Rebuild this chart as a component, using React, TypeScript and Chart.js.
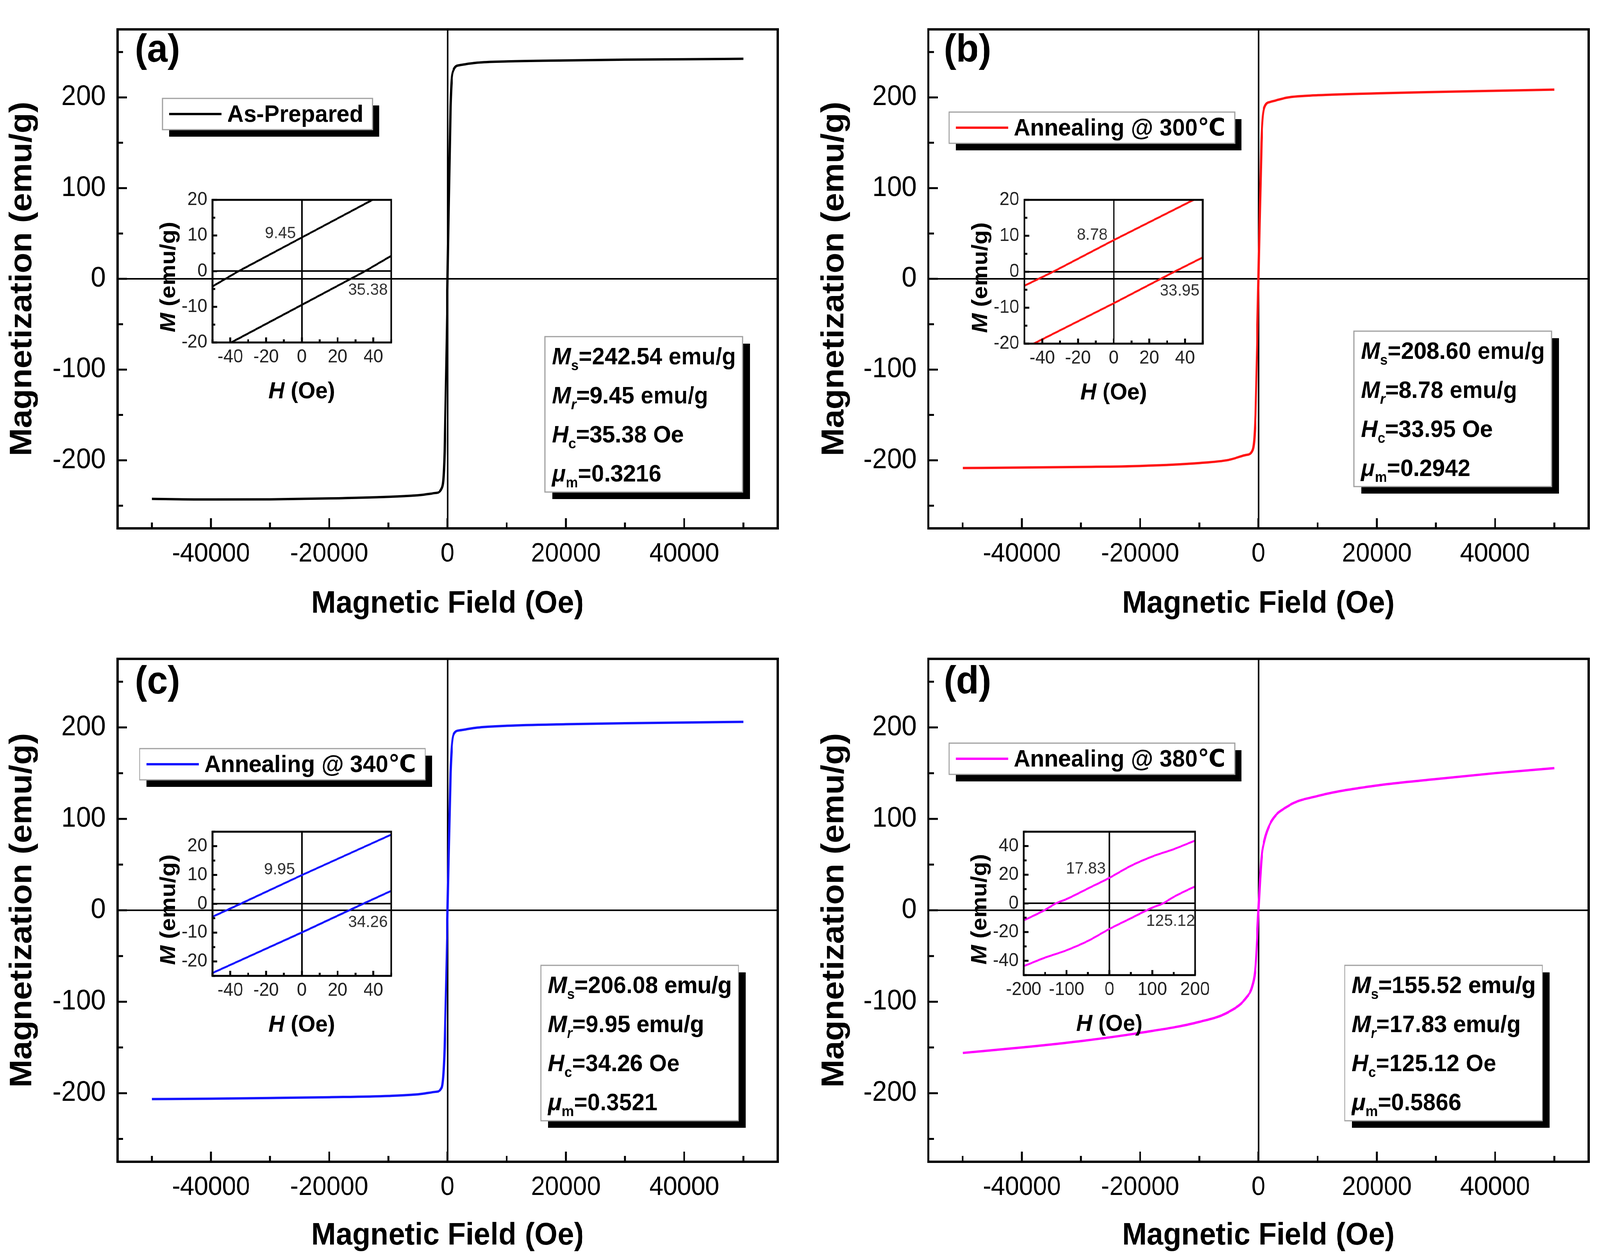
import React, { useEffect, useRef } from 'react';
import { Chart, registerables } from 'chart.js';

Chart.register(...registerables);

const FONT = '"Liberation Sans", Arial, "DejaVu Sans", "Noto Sans CJK SC", sans-serif';
Chart.defaults.font.family = FONT;

const PAGE_W = 4331;
const PAGE_H = 3224;

// ---------------- data ----------------
const SERIES_LABELS = ['As-Prepared', 'Annealing @ 300℃', 'Annealing @ 340℃', 'Annealing @ 380℃'];
const SERIES_COLORS = ['#000000', '#ff1414', '#1414ff', '#ff00ff'];
const PANEL_TAGS = ['(a)', '(b)', '(c)', '(d)'];

const H_MAIN = [-50000, -40000, -30000, -20000, -10000, -5000, -2000, -1000, -500, 0, 500, 1000, 2000, 5000, 10000, 20000, 30000, 40000, 50000];
const M_AS_PREPARED = [-242.5, -243.2, -243.0, -242.0, -240.2, -238.5, -236.0, -231.0, -190, 0, 190, 230, 235.5, 238.3, 239.7, 240.8, 241.6, 242.1, 242.54];
const M_300 = [-208.5, -208.0, -207.3, -206.2, -203.0, -199.5, -194.0, -189.0, -150, 0, 150, 189, 195, 200, 202.4, 204.5, 206.0, 207.3, 208.6];
const M_340 = [-206.5, -206.0, -205.3, -204.4, -203.0, -201.2, -198.5, -194.0, -150, 0, 150, 192, 196.8, 199.8, 201.8, 203.5, 204.6, 205.4, 206.08];
const M_380 = [-156, -150, -143, -134, -122, -111, -95, -82, -62, 0, 56, 76, 95, 114, 125, 136.5, 143.5, 150, 155.5];
const SERIES_M = [M_AS_PREPARED, M_300, M_340, M_380];

const MS_VALUES = [242.54, 208.6, 206.08, 155.52];
const MR_VALUES = [9.45, 8.78, 9.95, 17.83];
const HC_VALUES = [35.38, 33.95, 34.26, 125.12];
const MU_VALUES = [0.3216, 0.2942, 0.3521, 0.5866];

const MAIN_X_TICKS = [-40000, -20000, 0, 20000, 40000];
const MAIN_X_MINOR = [-50000, -30000, -10000, 10000, 30000, 50000];
const MAIN_Y_TICKS = [-200, -100, 0, 100, 200];
const MAIN_Y_MINOR = [-250, -150, -50, 50, 150, 250];

// insets (upper / lower branch of the loop)
const INSET_A_UP_H = [-50, -35.38, 0, 50];
const INSET_A_UP_M = [-4.3, 0, 9.45, 22.8];
const INSET_A_DN_H = [-50, 0, 35.38, 50];
const INSET_A_DN_M = [-22.8, -9.45, 0, 4.3];

const INSET_B_UP_H = [-50, -33.95, 0, 50];
const INSET_B_UP_M = [-3.9, 0, 8.78, 21.3];
const INSET_B_DN_H = [-50, 0, 33.95, 50];
const INSET_B_DN_M = [-21.3, -8.78, 0, 4.0];

const INSET_C_UP_H = [-50, -34.26, 0, 50];
const INSET_C_UP_M = [-4.5, 0, 9.95, 24.0];
const INSET_C_DN_H = [-50, 0, 34.26, 50];
const INSET_C_DN_M = [-24.0, -9.95, 0, 4.5];

const INSET_D_UP_H = [-200, -150, -125.12, -100, -50, 0, 50, 100, 150, 200];
const INSET_D_UP_M = [-11.9, -4.5, 0, 3.0, 10.4, 17.83, 26.2, 32.7, 37.8, 43.8];
const INSET_D_DN_H = [-200, -150, -100, -50, 0, 50, 100, 125.12, 150, 200];
const INSET_D_DN_M = [-43.8, -37.8, -32.7, -26.2, -17.83, -10.4, -3.0, 0, 4.5, 11.9];

const INSET_X_TICKS_50 = [-40, -20, 0, 20, 40];
const INSET_X_MINOR_50 = [-50, -30, -10, 10, 30, 50];
const INSET_X_TICKS_200 = [-200, -100, 0, 100, 200];
const INSET_X_MINOR_200 = [-150, -50, 50, 150];
const INSET_Y_TICKS_20 = [-20, -10, 0, 10, 20];
const INSET_Y_MINOR_20 = [-15, -5, 5, 15];
const INSET_Y_MINOR_25 = [-25, -15, -5, 5, 15, 25];
const INSET_Y_TICKS_40 = [-40, -20, 0, 20, 40];
const INSET_Y_MINOR_40 = [-50, -30, -10, 10, 30, 50];

// ---------------- layout (page pixels) ----------------
const PANELS = [
  { canvas: { x: 0, y: 0, w: 2165, h: 1612 }, area: { l: 318, t: 33, r: 2105, b: 1353 }, yTitleCenter: 61, xTitleCenter: 1547, legend: { x: 440, y: 252 }, box: { x: 1475, y: 862 }, tag: { x: 365, y: 130 } },
  { canvas: { x: 2165, y: 0, w: 2166, h: 1612 }, area: { l: 2513, t: 33, r: 4300, b: 1353 }, yTitleCenter: 2259, xTitleCenter: 1547, legend: { x: 2569, y: 287 }, box: { x: 3665, y: 848 }, tag: { x: 2555, y: 130 } },
  { canvas: { x: 0, y: 1612, w: 2165, h: 1612 }, area: { l: 318, t: 1652, r: 2105, b: 2975 }, yTitleCenter: 61, xTitleCenter: 3165, legend: { x: 378, y: 1917 }, box: { x: 1464, y: 2472 }, tag: { x: 365, y: 1748 } },
  { canvas: { x: 2165, y: 1612, w: 2166, h: 1612 }, area: { l: 2513, t: 1652, r: 4300, b: 2975 }, yTitleCenter: 2259, xTitleCenter: 3165, legend: { x: 2569, y: 1903 }, box: { x: 3640, y: 2472 }, tag: { x: 2555, y: 1748 } },
];

const INSETS = [
  { area: { l: 575, t: 509, r: 1059, b: 877 }, x: [-50, 50], y: [-20, 20], xTicks: INSET_X_TICKS_50, xMinor: INSET_X_MINOR_50, yTicks: INSET_Y_TICKS_20, yMinor: INSET_Y_MINOR_20, up: [INSET_A_UP_H, INSET_A_UP_M], dn: [INSET_A_DN_H, INSET_A_DN_M], mrPos: [-12, 10.5], hcPos: [37, -5.3], smooth: false },
  { area: { l: 2773, t: 509, r: 3256, b: 880 }, x: [-50, 50], y: [-20, 20], xTicks: INSET_X_TICKS_50, xMinor: INSET_X_MINOR_50, yTicks: INSET_Y_TICKS_20, yMinor: INSET_Y_MINOR_20, up: [INSET_B_UP_H, INSET_B_UP_M], dn: [INSET_B_DN_H, INSET_B_DN_M], mrPos: [-12, 10.2], hcPos: [37, -5.3], smooth: false },
  { area: { l: 575, t: 2127, r: 1059, b: 2499 }, x: [-50, 50], y: [-25, 25], xTicks: INSET_X_TICKS_50, xMinor: INSET_X_MINOR_50, yTicks: INSET_Y_TICKS_20, yMinor: INSET_Y_MINOR_25, up: [INSET_C_UP_H, INSET_C_UP_M], dn: [INSET_C_DN_H, INSET_C_DN_M], mrPos: [-12.5, 11.8], hcPos: [37, -6.4], smooth: false },
  { area: { l: 2771, t: 2127, r: 3254, b: 2497 }, x: [-200, 200], y: [-50, 50], xTicks: INSET_X_TICKS_200, xMinor: INSET_X_MINOR_200, yTicks: INSET_Y_TICKS_40, yMinor: INSET_Y_MINOR_40, up: [INSET_D_UP_H, INSET_D_UP_M], dn: [INSET_D_DN_H, INSET_D_DN_M], mrPos: [-55, 24.0], hcPos: [143, -12.5], smooth: true },
];

type Seg = { t: string; f: string; sub?: boolean };

function measureRich(ctx: CanvasRenderingContext2D, segs: Seg[], size: number) {
  let w = 0;
  for (const s of segs) {
    const fs = s.sub ? size * 0.6 : size;
    ctx.font = `${s.f} ${fs}px ${FONT}`;
    w += ctx.measureText(s.t).width;
  }
  return w;
}

function drawRich(ctx: CanvasRenderingContext2D, segs: Seg[], x: number, baseline: number, size: number) {
  let cx = x;
  ctx.textBaseline = 'alphabetic';
  ctx.textAlign = 'left';
  for (const s of segs) {
    const fs = s.sub ? size * 0.6 : size;
    ctx.font = `${s.f} ${fs}px ${FONT}`;
    ctx.fillText(s.t, cx, s.sub ? baseline + size * 0.24 : baseline);
    cx += ctx.measureText(s.t).width;
  }
}

function drawTicks(ctx: CanvasRenderingContext2D, chart: any, xMaj: number[], xMin: number[], yMaj: number[], yMin: number[], lMaj: number, lMin: number, lw: number) {
  const a = chart.chartArea;
  const xs = chart.scales.x;
  const ys = chart.scales.y;
  ctx.strokeStyle = '#000';
  ctx.lineWidth = lw;
  ctx.beginPath();
  for (const v of xMaj) { const p = xs.getPixelForValue(v); ctx.moveTo(p, a.bottom); ctx.lineTo(p, a.bottom - lMaj); }
  for (const v of xMin) { const p = xs.getPixelForValue(v); ctx.moveTo(p, a.bottom); ctx.lineTo(p, a.bottom - lMin); }
  for (const v of yMaj) { const p = ys.getPixelForValue(v); ctx.moveTo(a.left, p); ctx.lineTo(a.left + lMaj, p); }
  for (const v of yMin) { const p = ys.getPixelForValue(v); ctx.moveTo(a.left, p); ctx.lineTo(a.left + lMin, p); }
  ctx.stroke();
}

function zeroGrid(lw: number) {
  return {
    drawTicks: false,
    lineWidth: lw,
    color: (c: any) => (c.tick && c.tick.value === 0 ? '#000' : 'rgba(0,0,0,0)'),
  };
}

function makeMain(canvas: HTMLCanvasElement, p: any, i: number, dpr: number) {
  const pc = p.canvas;
  const A = p.area;
  const padTop = A.t - pc.y;
  const padRight = pc.x + pc.w - A.r;
  const yW = A.l - pc.x;
  const xH = pc.y + pc.h - A.b;
  const color = SERIES_COLORS[i];
  const data = H_MAIN.map((h, k) => ({ x: h, y: SERIES_M[i][k] }));
  const yTitlePad = p.yTitleCenter - pc.x - 43;
  const xTitlePad = pc.y + pc.h - p.xTitleCenter - 40;

  const decor = {
    id: 'decor' + i,
    afterDraw(chart: any) {
      const ctx: CanvasRenderingContext2D = chart.ctx;
      const a = chart.chartArea;
      ctx.save();
      ctx.strokeStyle = '#000';
      ctx.lineWidth = 6;
      ctx.strokeRect(a.left, a.top, a.right - a.left, a.bottom - a.top);
      drawTicks(ctx, chart, MAIN_X_TICKS, MAIN_X_MINOR, MAIN_Y_TICKS, MAIN_Y_MINOR, 26, 15, 5);

      // panel tag
      ctx.fillStyle = '#000';
      ctx.font = `bold 100px ${FONT}`;
      ctx.textAlign = 'left';
      ctx.textBaseline = 'middle';
      ctx.fillText(PANEL_TAGS[i], p.tag.x - pc.x, p.tag.y - pc.y);

      // legend
      const label = chart.data.datasets[0].label;
      const L = p.legend.x - pc.x;
      const T = p.legend.y - pc.y;
      ctx.font = `bold 62px ${FONT}`;
      const tw = ctx.measureText(label).width;
      const LW = 175 + tw + 25;
      const LH = 80;
      ctx.fillStyle = '#000';
      ctx.fillRect(L + 18, T + 18, LW, LH);
      ctx.fillStyle = '#fff';
      ctx.fillRect(L, T, LW, LH);
      ctx.strokeStyle = '#a0a0a0';
      ctx.lineWidth = 3;
      ctx.strokeRect(L, T, LW, LH);
      ctx.strokeStyle = color;
      ctx.lineWidth = 6;
      ctx.beginPath();
      ctx.moveTo(L + 18, T + LH / 2);
      ctx.lineTo(L + 160, T + LH / 2);
      ctx.stroke();
      ctx.fillStyle = '#000';
      ctx.textBaseline = 'middle';
      ctx.textAlign = 'left';
      ctx.fillText(label, L + 175, T + LH / 2 + 3);

      // parameter box
      const fs = 62;
      const lines: Seg[][] = [
        [{ t: 'M', f: 'italic bold' }, { t: 's', f: 'bold', sub: true }, { t: '=' + MS_VALUES[i].toFixed(2) + ' emu/g', f: 'bold' }],
        [{ t: 'M', f: 'italic bold' }, { t: 'r', f: 'italic bold', sub: true }, { t: '=' + MR_VALUES[i].toFixed(2) + ' emu/g', f: 'bold' }],
        [{ t: 'H', f: 'italic bold' }, { t: 'c', f: 'bold', sub: true }, { t: '=' + HC_VALUES[i].toFixed(2) + ' Oe', f: 'bold' }],
        [{ t: 'μ', f: 'italic bold' }, { t: 'm', f: 'bold', sub: true }, { t: '=' + MU_VALUES[i].toFixed(4), f: 'bold' }],
      ];
      let mw = 0;
      for (const ln of lines) mw = Math.max(mw, measureRich(ctx, ln, fs));
      const BX = p.box.x - pc.x;
      const BY = p.box.y - pc.y;
      const BW = mw + 19 + 18;
      const BH = 398;
      ctx.fillStyle = '#000';
      ctx.fillRect(BX + 20, BY + 18, BW, BH);
      ctx.fillStyle = '#fff';
      ctx.fillRect(BX, BY, BW, BH);
      ctx.strokeStyle = '#a0a0a0';
      ctx.lineWidth = 3;
      ctx.strokeRect(BX, BY, BW, BH);
      ctx.fillStyle = '#000';
      lines.forEach((ln, k) => {
        const cy = BY + 49 + k * 100;
        drawRich(ctx, ln, BX + 19, cy + fs * 0.36, fs);
      });
      ctx.restore();
    },
  };

  return new Chart(canvas, {
    type: 'scatter',
    data: {
      datasets: [
        {
          label: SERIES_LABELS[i],
          data,
          showLine: true,
          borderColor: color,
          backgroundColor: color,
          borderWidth: 6,
          pointRadius: 0,
          cubicInterpolationMode: 'monotone',
          fill: false,
        } as any,
      ],
    },
    options: {
      responsive: false,
      animation: false,
      devicePixelRatio: dpr,
      events: [],
      layout: { autoPadding: false, padding: { top: padTop, right: padRight, left: 0, bottom: 0 } },
      plugins: { legend: { display: false }, tooltip: { enabled: false } },
      scales: {
        x: {
          type: 'linear',
          min: -55800,
          max: 55800,
          afterBuildTicks: (s: any) => { s.ticks = MAIN_X_TICKS.map((v) => ({ value: v })); },
          afterFit: (s: any) => { s.height = xH; },
          ticks: { callback: (v: any) => String(v), font: { size: 68 }, color: '#000', padding: 25, maxRotation: 0, autoSkip: false },
          grid: zeroGrid(4) as any,
          border: { display: false },
          title: { display: true, text: 'Magnetic Field (Oe)', color: '#000', font: { size: 80, weight: 'bold', lineHeight: 1 }, padding: { top: 0, bottom: xTitlePad } },
        },
        y: {
          type: 'linear',
          min: -275,
          max: 275,
          afterBuildTicks: (s: any) => { s.ticks = MAIN_Y_TICKS.map((v) => ({ value: v })); },
          afterFit: (s: any) => { s.width = yW; },
          ticks: { callback: (v: any) => String(v), font: { size: 72 }, color: '#000', padding: 32, autoSkip: false },
          grid: zeroGrid(4) as any,
          border: { display: false },
          title: { display: true, text: 'Magnetization (emu/g)', color: '#000', font: { size: 86, weight: 'bold', lineHeight: 1 }, padding: { top: yTitlePad, bottom: 0 } },
        },
      },
    } as any,
    plugins: [decor],
  });
}

const INSET_YW = 170;
const INSET_XH = 170;
const INSET_TOP = 40;
const INSET_RIGHT = 30;

function insetCanvasRect(q: any) {
  const A = q.area;
  return { x: A.l - INSET_YW, y: A.t - INSET_TOP, w: A.r - A.l + INSET_YW + INSET_RIGHT, h: A.b - A.t + INSET_TOP + INSET_XH };
}

function makeInset(canvas: HTMLCanvasElement, q: any, i: number, dpr: number) {
  const color = SERIES_COLORS[i];
  const toPts = (hs: number[], ms: number[]) => hs.map((h, k) => ({ x: h, y: ms[k] }));
  const ds = (pts: any[]) => ({
    data: pts,
    showLine: true,
    borderColor: color,
    backgroundColor: color,
    borderWidth: 5,
    pointRadius: 0,
    cubicInterpolationMode: q.smooth ? 'monotone' : 'default',
    tension: 0,
    fill: false,
  });

  const decor = {
    id: 'insetDecor' + i,
    afterDraw(chart: any) {
      const ctx: CanvasRenderingContext2D = chart.ctx;
      const a = chart.chartArea;
      const xs = chart.scales.x;
      const ys = chart.scales.y;
      ctx.save();
      ctx.strokeStyle = '#000';
      ctx.lineWidth = 5;
      ctx.strokeRect(a.left, a.top, a.right - a.left, a.bottom - a.top);
      drawTicks(ctx, chart, q.xTicks, q.xMinor, q.yTicks, q.yMinor, 13, 8, 5);

      // value labels
      ctx.fillStyle = '#333';
      ctx.font = `43px ${FONT}`;
      ctx.textAlign = 'center';
      ctx.textBaseline = 'middle';
      ctx.fillText(MR_VALUES[i].toFixed(2), xs.getPixelForValue(q.mrPos[0]), ys.getPixelForValue(q.mrPos[1]));
      ctx.fillText(HC_VALUES[i].toFixed(2), xs.getPixelForValue(q.hcPos[0]), ys.getPixelForValue(q.hcPos[1]));

      // axis titles
      const ts = 60;
      ctx.fillStyle = '#000';
      const hSegs: Seg[] = [{ t: 'H', f: 'italic bold' }, { t: ' (Oe)', f: 'bold' }];
      const hw = measureRich(ctx, hSegs, ts);
      const cx = (a.left + a.right) / 2;
      drawRich(ctx, hSegs, cx - hw / 2, a.bottom + 121 + ts * 0.36, ts);
      const mSegs: Seg[] = [{ t: 'M', f: 'italic bold' }, { t: ' (emu/g)', f: 'bold' }];
      const mw = measureRich(ctx, mSegs, ts);
      ctx.translate(a.left - 123, (a.top + a.bottom) / 2 + 15);
      ctx.rotate(-Math.PI / 2);
      drawRich(ctx, mSegs, -mw / 2, ts * 0.36, ts);
      ctx.restore();
    },
  };

  return new Chart(canvas, {
    type: 'scatter',
    data: { datasets: [ds(toPts(q.up[0], q.up[1])), ds(toPts(q.dn[0], q.dn[1]))] as any },
    options: {
      responsive: false,
      animation: false,
      devicePixelRatio: dpr,
      events: [],
      layout: { autoPadding: false, padding: { top: INSET_TOP, right: INSET_RIGHT, left: 0, bottom: 0 } },
      plugins: { legend: { display: false }, tooltip: { enabled: false } },
      scales: {
        x: {
          type: 'linear',
          min: q.x[0],
          max: q.x[1],
          afterBuildTicks: (s: any) => { s.ticks = q.xTicks.map((v: number) => ({ value: v })); },
          afterFit: (s: any) => { s.height = INSET_XH; },
          ticks: { callback: (v: any) => String(v), font: { size: 48 }, color: '#222', padding: 9, maxRotation: 0, autoSkip: false },
          grid: zeroGrid(4) as any,
          border: { display: false },
        },
        y: {
          type: 'linear',
          min: q.y[0],
          max: q.y[1],
          afterBuildTicks: (s: any) => { s.ticks = q.yTicks.map((v: number) => ({ value: v })); },
          afterFit: (s: any) => { s.width = INSET_YW; },
          ticks: { callback: (v: any) => String(v), font: { size: 48 }, color: '#222', padding: 14, autoSkip: false },
          grid: zeroGrid(4) as any,
          border: { display: false },
        },
      },
    } as any,
    plugins: [decor],
  });
}

function pageScales() {
  const w = window.innerWidth || PAGE_W;
  const h = window.innerHeight || PAGE_H;
  return { sx: w / PAGE_W, sy: h / PAGE_H };
}

export default function App() {
  const mainRefs = useRef<(HTMLCanvasElement | null)[]>([]);
  const insetRefs = useRef<(HTMLCanvasElement | null)[]>([]);
  const { sx, sy } = pageScales();

  useEffect(() => {
    document.body.style.margin = '0';
    document.documentElement.style.overflow = 'hidden';
    const dpr = Math.max(sx, sy) * (window.devicePixelRatio || 1);
    const charts: Chart[] = [];
    PANELS.forEach((p, i) => {
      const c = mainRefs.current[i];
      if (c) charts.push(makeMain(c, p, i, dpr));
    });
    INSETS.forEach((q, i) => {
      const c = insetRefs.current[i];
      if (c) charts.push(makeInset(c, q, i, dpr));
    });
    return () => charts.forEach((c) => c.destroy());
  }, []);

  return (
    <div style={{ position: 'absolute', left: 0, top: 0, width: PAGE_W * sx, height: PAGE_H * sy, background: '#fff', overflow: 'hidden' }}>
      <div style={{ position: 'absolute', left: 0, top: 0, width: PAGE_W, height: PAGE_H, transform: `scale(${sx}, ${sy})`, transformOrigin: '0 0' }}>
        {PANELS.map((p, i) => (
          <canvas
            key={'m' + i}
            ref={(el) => { mainRefs.current[i] = el; }}
            width={p.canvas.w}
            height={p.canvas.h}
            style={{ position: 'absolute', left: p.canvas.x, top: p.canvas.y, width: p.canvas.w, height: p.canvas.h }}
          />
        ))}
        {INSETS.map((q, i) => {
          const r = insetCanvasRect(q);
          return (
            <canvas
              key={'i' + i}
              ref={(el) => { insetRefs.current[i] = el; }}
              width={r.w}
              height={r.h}
              style={{ position: 'absolute', left: r.x, top: r.y, width: r.w, height: r.h }}
            />
          );
        })}
      </div>
    </div>
  );
}
